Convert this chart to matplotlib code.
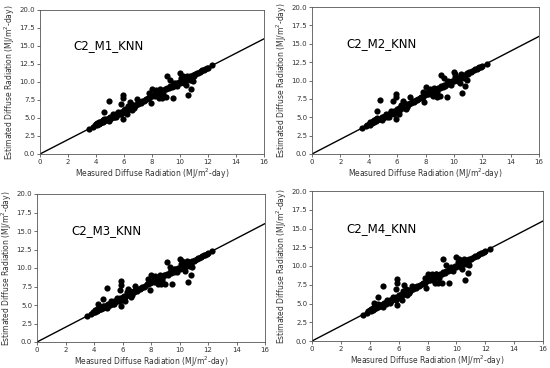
import matplotlib
matplotlib.use("Agg")
import matplotlib.pyplot as plt

titles = ["C2_M1_KNN", "C2_M2_KNN", "C2_M3_KNN", "C2_M4_KNN"]

meas_base = [3.5, 3.8, 3.9, 4.0, 4.1, 4.1, 4.2, 4.2, 4.3, 4.3, 4.4, 4.4, 4.5, 4.5, 4.6,
             4.7, 4.8, 4.9, 5.0, 5.0, 5.1, 5.2, 5.3, 5.4, 5.5, 5.6, 5.7, 5.8, 5.9, 6.0,
             6.0, 6.1, 6.2, 6.3, 6.4, 6.5, 6.6, 6.7, 6.8, 6.9, 7.0, 7.1, 7.2, 7.3, 7.4,
             7.5, 7.6, 7.7, 7.8, 7.9, 8.0, 8.1, 8.2, 8.3, 8.4, 8.5, 8.6, 8.7, 8.8, 8.9,
             9.0, 9.1, 9.2, 9.3, 9.4, 9.5, 9.6, 9.7, 9.8, 9.9, 10.0, 10.1, 10.2, 10.3, 10.4,
             10.5, 10.6, 10.7, 10.8, 10.9, 11.0, 11.1, 11.2, 11.3, 11.4, 11.5, 11.6, 11.7,
             11.8, 11.9, 12.0, 12.3, 4.6, 4.9, 5.2, 5.4, 5.6, 5.8, 6.1, 6.3, 6.5, 6.7,
             8.2, 8.4, 8.6, 8.8, 9.6, 9.8, 10.1, 10.3, 10.5, 10.7]
est_base = [3.5, 3.8, 4.0, 4.1, 4.0, 4.3, 4.2, 4.4, 4.3, 4.5, 4.4, 4.6, 4.5, 4.7, 4.6,
            4.8, 4.7, 5.0, 5.1, 4.9, 5.0, 5.3, 5.2, 5.5, 5.4, 5.7, 5.6, 5.9, 5.8, 6.1,
            5.9, 6.2, 6.1, 6.4, 6.3, 6.6, 6.5, 6.8, 6.7, 7.0, 6.9, 7.2, 7.1, 7.3, 7.4,
            7.5, 7.6, 7.8, 7.8, 8.0, 8.1, 8.2, 8.1, 8.4, 8.3, 8.6, 8.5, 8.8, 8.7, 9.0,
            9.0, 9.2, 9.1, 9.4, 9.3, 9.6, 9.5, 9.8, 9.7, 10.0, 9.9, 10.2, 10.1, 10.4, 10.3,
            10.6, 10.5, 10.8, 10.6, 11.0, 10.9, 11.1, 11.2, 11.3, 11.4, 11.5, 11.6, 11.7,
            11.8, 11.9, 12.0, 12.3, 4.9, 4.6, 5.5, 5.1, 5.9, 5.5, 5.8, 6.7, 6.9, 6.4,
            8.5, 8.1, 8.9, 8.4, 9.9, 9.4, 10.5, 9.9, 10.9, 10.3]

meas_out = [
    [4.9, 4.6, 5.9, 5.9, 5.8, 5.9, 6.2, 6.4, 6.9, 7.8, 7.9, 8.0, 8.3, 8.5, 8.7, 9.0,
     9.1, 9.3, 9.5, 10.0, 10.2, 10.6, 10.8, 10.9, 10.4, 8.6, 6.6, 5.3],
    [4.8, 4.6, 5.9, 5.9, 5.7, 5.9, 6.1, 6.4, 6.9, 7.8, 7.9, 8.0, 8.3, 8.5, 8.8, 9.0,
     9.1, 9.3, 9.5, 10.0, 10.1, 10.6, 10.8, 10.9, 10.4, 8.6, 6.6, 5.3],
    [4.9, 4.6, 5.9, 5.9, 5.8, 5.9, 6.2, 6.4, 6.9, 7.8, 7.9, 8.0, 8.3, 8.5, 8.7, 9.0,
     9.1, 9.3, 9.5, 10.0, 10.2, 10.6, 10.8, 10.9, 10.4, 8.6, 6.6, 4.3],
    [4.9, 4.6, 5.9, 5.9, 5.8, 5.9, 6.2, 6.4, 6.9, 7.8, 7.9, 8.0, 8.3, 8.5, 8.7, 9.0,
     9.1, 9.3, 9.5, 10.0, 10.2, 10.6, 10.8, 10.9, 10.4, 8.6, 6.6, 4.3],
]
est_out = [
    [7.4, 5.9, 8.2, 7.8, 7.0, 4.8, 5.5, 7.2, 7.6, 8.5, 7.1, 9.0, 8.9, 7.8, 7.8, 7.9,
     10.9, 10.3, 7.8, 11.2, 10.9, 8.2, 9.0, 10.1, 9.6, 9.0, 6.1, 5.1],
    [7.4, 5.9, 8.1, 7.8, 7.2, 4.8, 5.4, 7.2, 7.7, 8.4, 7.1, 9.1, 8.9, 7.9, 7.8, 7.9,
     10.8, 10.3, 7.7, 11.1, 10.9, 8.3, 9.2, 10.1, 9.6, 9.0, 6.1, 5.1],
    [7.3, 5.8, 8.3, 7.7, 7.0, 4.8, 5.5, 7.2, 7.6, 8.5, 7.0, 9.1, 8.9, 7.8, 7.8, 7.8,
     10.8, 10.2, 7.8, 11.2, 10.9, 8.1, 9.0, 10.1, 9.6, 9.0, 6.1, 5.1],
    [7.3, 5.9, 8.3, 7.7, 7.0, 4.8, 5.5, 7.5, 7.4, 8.4, 7.1, 9.0, 8.9, 7.8, 7.8, 7.8,
     10.9, 10.2, 7.8, 11.2, 10.9, 8.1, 9.1, 10.1, 9.6, 9.0, 6.1, 5.1],
]

line_x = [0, 16]
line_y = [0, 16]
x_ticks = [0, 2, 4, 6, 8, 10, 12, 14, 16]
y_ticks = [0.0, 2.5, 5.0, 7.5, 10.0, 12.5, 15.0, 17.5, 20.0]

fig = plt.figure(figsize=(5.5, 3.68), dpi=100)
W, H = 550.0, 368.0
boxes = [(40, 10, 264, 154), (312, 7, 539, 154), (37, 194, 265, 342), (312, 191, 543, 341)]

for i, (l, t, r, b) in enumerate(boxes):
    ax = fig.add_axes([l / W, 1 - b / H, (r - l) / W, (b - t) / H])
    mx = meas_base + meas_out[i]
    ey = est_base + est_out[i]
    ax.scatter(mx, ey, s=20, color="black", zorder=3, linewidths=0)
    ax.plot(line_x, line_y, color="black", linewidth=1.0, zorder=2)
    ax.set_xlim(0, 16)
    ax.set_ylim(0, 20)
    ax.set_xticks(x_ticks)
    ax.set_yticks(y_ticks)
    ax.set_yticklabels([f"{v:.1f}" for v in y_ticks])
    ax.tick_params(labelsize=5, length=2, width=0.5, pad=1.5, colors="#333333")
    for sp in ax.spines.values():
        sp.set_linewidth(0.6)
        sp.set_color("#555555")
    ax.set_xlabel("Measured Diffuse Radiation (MJ/m$^2$-day)", fontsize=5.5, labelpad=1.5, color="#333333")
    ax.set_ylabel("Estimated Diffuse Radiation (MJ/m$^2$-day)", fontsize=5.5, labelpad=1.5, color="#333333")
    ax.text(2.4, 15.0, titles[i], fontsize=8.5, va="center", ha="left", color="black")

fig.savefig("out.png", dpi=100)
